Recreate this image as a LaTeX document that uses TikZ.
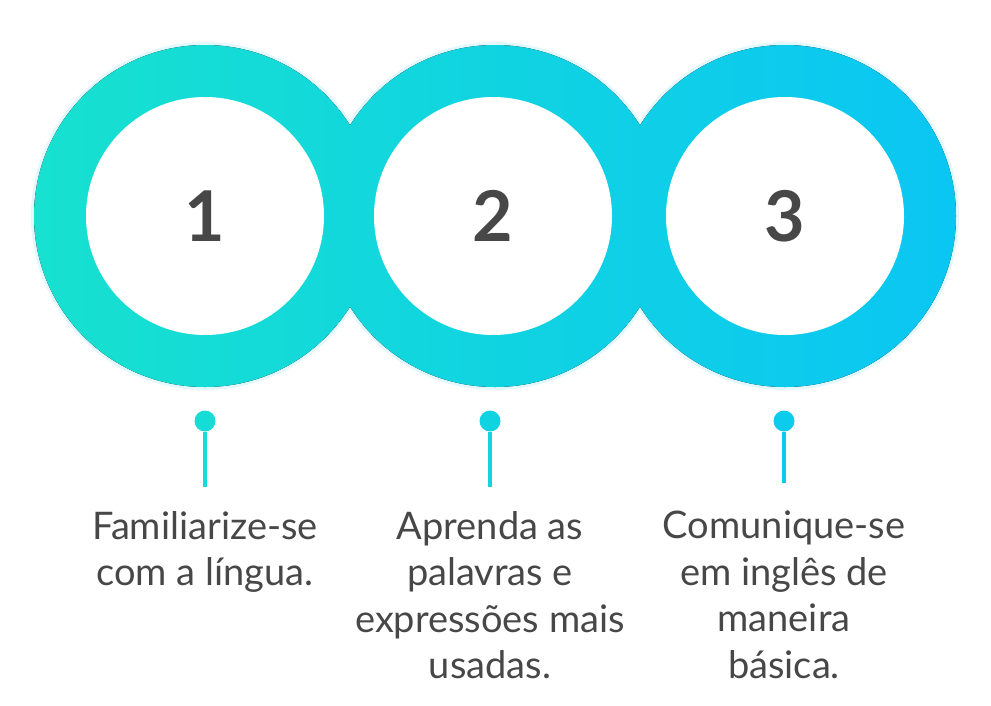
\documentclass[tikz,border=0pt]{standalone}
\usepackage{fontspec}
\setmainfont{Lato}
\definecolor{ringL}{HTML}{17E1CF}
\definecolor{ringR}{HTML}{0AC6F3}
\definecolor{ink}{HTML}{474747}
\colorlet{dotA}{ringR!18!ringL}
\colorlet{dotB}{ringR!50!ringL}
\colorlet{dotC}{ringR!80!ringL}
\begin{document}
\begin{tikzpicture}[
    x=1pt, y=-1pt,
    stepnum/.style={circle, fill=white, minimum size=238pt, inner sep=0pt,
                    text=ink, font=\fontsize{70}{70}\selectfont\bfseries},
    pin/.style={circle, inner sep=0pt, minimum size=21pt},
    stem/.style={line width=4pt},
    caption/.style={anchor=north, align=center, inner sep=0pt, text=ink,
                    font=\fontsize{38}{46.5}\selectfont},
  ]
  \useasboundingbox (0,0) rectangle (991,705);
  % rings
  \draw[ringR!12, line width=4pt] (205,216) circle (172pt) (495,216) circle (172pt)
    (785,216) circle (172pt);
  \fill[left color=ringL, right color=ringR] (205,216) circle (171pt)
    (495,216) circle (171pt) (785,216) circle (171pt);
  \node[stepnum] (n1) at (205,216) {1};
  \node[stepnum] (n2) at (493,216) {2};
  \node[stepnum] (n3) at (785,216) {3};
  % pins
  \node[pin, fill=dotA] (p1) at (205,421) {};
  \node[pin, fill=dotB] (p2) at (490,421) {};
  \node[pin, fill=dotC] (p3) at (784,421) {};
  \coordinate (e1) at (205,487);
  \coordinate (e2) at (490,487);
  \coordinate (e3) at (784,483);
  \draw[stem, dotA] (p1) -- (e1);
  \draw[stem, dotB] (p2) -- (e2);
  \draw[stem, dotC] (p3) -- (e3);
  % captions
  \node[caption] (t1) at (205,511) {Familiarize-se\\com a língua.};
  \node[caption] (t2) at (490,511) {Aprenda as\\palavras e\\expressões mais\\usadas.};
  \node[caption] (t3) at (784,511) {Comunique-se\\em inglês de\\maneira\\básica.};
\end{tikzpicture}
\end{document}
